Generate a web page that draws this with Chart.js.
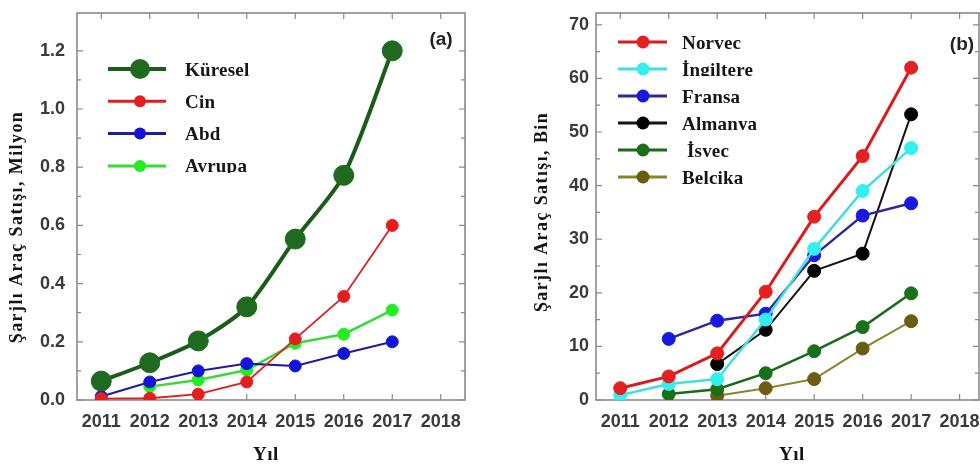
<!DOCTYPE html>
<html>
<head>
<meta charset="utf-8">
<script src="https://cdn.jsdelivr.net/npm/chart.js@4/dist/chart.umd.min.js"></script>
<style>
  html, body { margin: 0; padding: 0; background: #fff; width: 980px; height: 466px; overflow: hidden; position: relative; }
  #wa { position: absolute; left: 0; top: 0; width: 480px; height: 466px; }
  #wb { position: absolute; left: 490px; top: 0; width: 510px; height: 466px; }
</style>
</head>
<body>
<div id="wa"><canvas id="ca" width="480" height="466"></canvas></div>
<div id="wb"><canvas id="cb" width="510" height="466"></canvas></div>
<script>
// Years on the horizontal axis
const years = [2011, 2012, 2013, 2014, 2015, 2016, 2017];
const xTickYears = [2011, 2012, 2013, 2014, 2015, 2016, 2017, 2018];

// (a) charged vehicle sales, million
const kuresel = [0.065, 0.128, 0.203, 0.32, 0.553, 0.772, 1.2];
const cin     = [0.005, 0.006, 0.02, 0.062, 0.21, 0.356, 0.60];
const abd     = [0.012, 0.062, 0.10, 0.125, 0.117, 0.16, 0.20];
const avrupa  = [null, 0.046, 0.069, 0.103, 0.195, 0.226, 0.309];
const yTicksA = [0, 0.2, 0.4, 0.6, 0.8, 1.0, 1.2];

// (b) charged vehicle sales, thousand
const norvec    = [2.2, 4.4, 8.7, 20.2, 34.2, 45.5, 62.0];
const ingiltere = [0.9, 3.0, 3.9, 15.0, 28.2, 39.0, 47.0];
const fransa    = [null, 11.4, 14.8, 16.1, 27.0, 34.4, 36.7];
const almanya   = [null, null, 6.7, 13.1, 24.1, 27.3, 53.3];
const isvec     = [null, 1.1, 2.0, 5.0, 9.1, 13.6, 19.9];
const belcika   = [null, null, 0.8, 2.2, 3.9, 9.6, 14.7];
const yTicksB = [0, 10, 20, 30, 40, 50, 60, 70];

const pts = vals => years.map((x, i) => ({ x: x, y: vals[i] })).filter(p => p.y !== null);

function series(label, vals, line, fill, r, w, tension) {
  return {
    label: label, data: pts(vals),
    borderColor: line, backgroundColor: fill, borderWidth: w,
    pointRadius: r, pointHoverRadius: r, pointBackgroundColor: fill,
    pointBorderColor: fill, pointBorderWidth: 1, tension: tension || 0
  };
}

const FRAME = '#8a8a8a';
const TICKFONT = { family: '"Liberation Sans", Arial, sans-serif', size: 18, weight: 'bold' };
const SERIF = '"Liberation Serif", "Times New Roman", serif';

// frame, inward ticks, legend, titles
function decor(opt) {
  return {
    id: 'decor',
    beforeDatasetsDraw(chart) {
      const ctx = chart.ctx, a = chart.chartArea;
      const xs = chart.scales.x, ys = chart.scales.y;
      ctx.save();
      ctx.strokeStyle = FRAME;
      ctx.lineWidth = 1.6;
      ctx.strokeRect(a.left, a.top, a.right - a.left, a.bottom - a.top);
      ctx.lineWidth = 1.2;
      ctx.beginPath();
      xTickYears.forEach(v => {
        const px = xs.getPixelForValue(v);
        ctx.moveTo(px, a.bottom); ctx.lineTo(px, a.bottom - 6);
        ctx.moveTo(px, a.top); ctx.lineTo(px, a.top + 6);
      });
      const maj = opt.yTicks;
      maj.forEach((v, i) => {
        const py = ys.getPixelForValue(v);
        ctx.moveTo(a.left, py); ctx.lineTo(a.left + 6, py);
        ctx.moveTo(a.right, py); ctx.lineTo(a.right - 6, py);
        if (i < maj.length - 1) {
          const pm = ys.getPixelForValue((v + maj[i + 1]) / 2);
          ctx.moveTo(a.left, pm); ctx.lineTo(a.left + 4, pm);
          ctx.moveTo(a.right, pm); ctx.lineTo(a.right - 4, pm);
        }
      });
      ctx.stroke();
      ctx.restore();
    },
    afterDraw(chart) {
      const ctx = chart.ctx, a = chart.chartArea;
      ctx.save();
      // legend inside the plot
      chart.data.datasets.forEach((ds, i) => {
        const y = opt.legY + i * opt.legStep;
        ctx.strokeStyle = ds.borderColor;
        ctx.lineWidth = Math.max(ds.borderWidth, 3);
        ctx.beginPath();
        ctx.moveTo(a.left + opt.legX0, y); ctx.lineTo(a.left + opt.legX1, y);
        ctx.stroke();
        ctx.fillStyle = ds.backgroundColor;
        ctx.beginPath();
        ctx.arc(a.left + opt.legM, y, ds.pointRadius, 0, Math.PI * 2);
        ctx.fill();
        const base = y + 6.5;
        ctx.save();
        ctx.beginPath();
        ctx.rect(a.left + opt.legT - 4, y - 30, 220, base - y + 30.5);
        ctx.clip();
        ctx.fillStyle = '#151515';
        ctx.font = 'bold 19px ' + SERIF;
        ctx.letterSpacing = '0.2px';
        ctx.textAlign = 'left';
        ctx.textBaseline = 'alphabetic';
        ctx.fillText(opt.legendText[i], a.left + opt.legT, base);
        ctx.restore();
      });
      // panel tag
      ctx.fillStyle = '#222';
      ctx.font = 'bold 19px "Liberation Sans", Arial, sans-serif';
      ctx.letterSpacing = '0px';
      ctx.textAlign = 'center';
      ctx.textBaseline = 'middle';
      ctx.fillText(opt.tag, opt.tagX, opt.tagY);
      // axis titles
      ctx.fillStyle = '#151515';
      ctx.font = 'bold 19px ' + SERIF;
      ctx.letterSpacing = '0.5px';
      ctx.fillText('Yıl', opt.xTitleX, 455);
      ctx.save();
      ctx.translate(opt.yTitleX, opt.yTitleY);
      ctx.rotate(-Math.PI / 2);
      ctx.font = 'bold 18px ' + SERIF;
      ctx.letterSpacing = '1.4px';
      ctx.fillText(opt.yTitle, 0, 0);
      ctx.restore();
      ctx.restore();
    }
  };
}

function build(id, datasets, o) {
  return new Chart(document.getElementById(id), {
    type: 'line',
    data: { datasets: datasets },
    options: {
      responsive: false, animation: false, devicePixelRatio: 1,
      layout: { padding: { top: 13, right: o.padRight, left: 0, bottom: 0 } },
      plugins: { legend: { display: false }, tooltip: { enabled: false } },
      scales: {
        x: {
          type: 'linear', min: 2010.5, max: o.xMax,
          grid: { display: false, drawTicks: false }, border: { display: false },
          afterBuildTicks: s => { s.ticks = xTickYears.map(v => ({ value: v })); },
          afterFit: s => { s.height = 66; s.paddingLeft = 0; s.paddingRight = 0; },
          ticks: { font: TICKFONT, color: '#3a3a3a', padding: 11, maxRotation: 0, callback: v => String(v) }
        },
        y: {
          min: 0, max: o.yMax,
          grid: { display: false, drawTicks: false }, border: { display: false },
          afterBuildTicks: s => { s.ticks = o.yTicks.map(v => ({ value: v })); },
          afterFit: s => { s.width = o.yWidth; s.paddingTop = 0; s.paddingBottom = 0; },
          ticks: { font: TICKFONT, color: '#3a3a3a', padding: o.yPad, callback: o.fmt }
        }
      }
    },
    plugins: [decor(o)]
  });
}

build('ca', [
  series('Küresel', kuresel, '#1b5c1b', '#1f6a1f', 10, 4, 0.25),
  series('Çin', cin, '#e01c1c', '#e41e1e', 6, 1.8),
  series('Abd', abd, '#1c1c9c', '#1414d8', 6, 2),
  series('Avrupa', avrupa, '#3ad83a', '#22ee22', 6, 2.5)
], {
  yMax: 1.33, yTicks: yTicksA, xMax: 2018.5, padRight: 15, yWidth: 77, yPad: 12,
  fmt: v => v.toFixed(1),
  legendText: ['Küresel', 'Çin', 'Abd', 'Avrupa'],
  legY: 69, legStep: 32.3, legX0: 31, legX1: 89, legM: 63, legT: 108,
  tag: '(a)', tagX: 441, tagY: 40, xTitleX: 266,
  yTitle: 'Şarjlı Araç Satışı, Milyon', yTitleX: 17, yTitleY: 227
});

build('cb', [
  series('Norveç', norvec, '#d81c1c', '#e42020', 6.5, 3),
  series('İngiltere', ingiltere, '#44dede', '#33f0f0', 6.5, 2.5),
  series('Fransa', fransa, '#2a2a9a', '#1818e0', 6.5, 2.5),
  series('Almanya', almanya, '#141414', '#000000', 6.5, 2),
  series('İsveç', isvec, '#1a6a1a', '#187018', 6.5, 2.5),
  series('Belçika', belcika, '#8c8424', '#6b5d10', 6.5, 2)
], {
  yMax: 72.2, yTicks: yTicksB, xMax: 2018.4, padRight: 21, yWidth: 106, yPad: 7,
  fmt: v => String(v),
  legendText: ['Norveç', 'İngiltere', 'Fransa', 'Almanya', ' İsveç', 'Belçika'],
  legY: 42, legStep: 27, legX0: 22, legX1: 71, legM: 47, legT: 86,
  tag: '(b)', tagX: 472, tagY: 45, xTitleX: 302,
  yTitle: 'Şarjlı Araç Satışı, Bin', yTitleX: 52, yTitleY: 212
});
</script>
</body>
</html>
